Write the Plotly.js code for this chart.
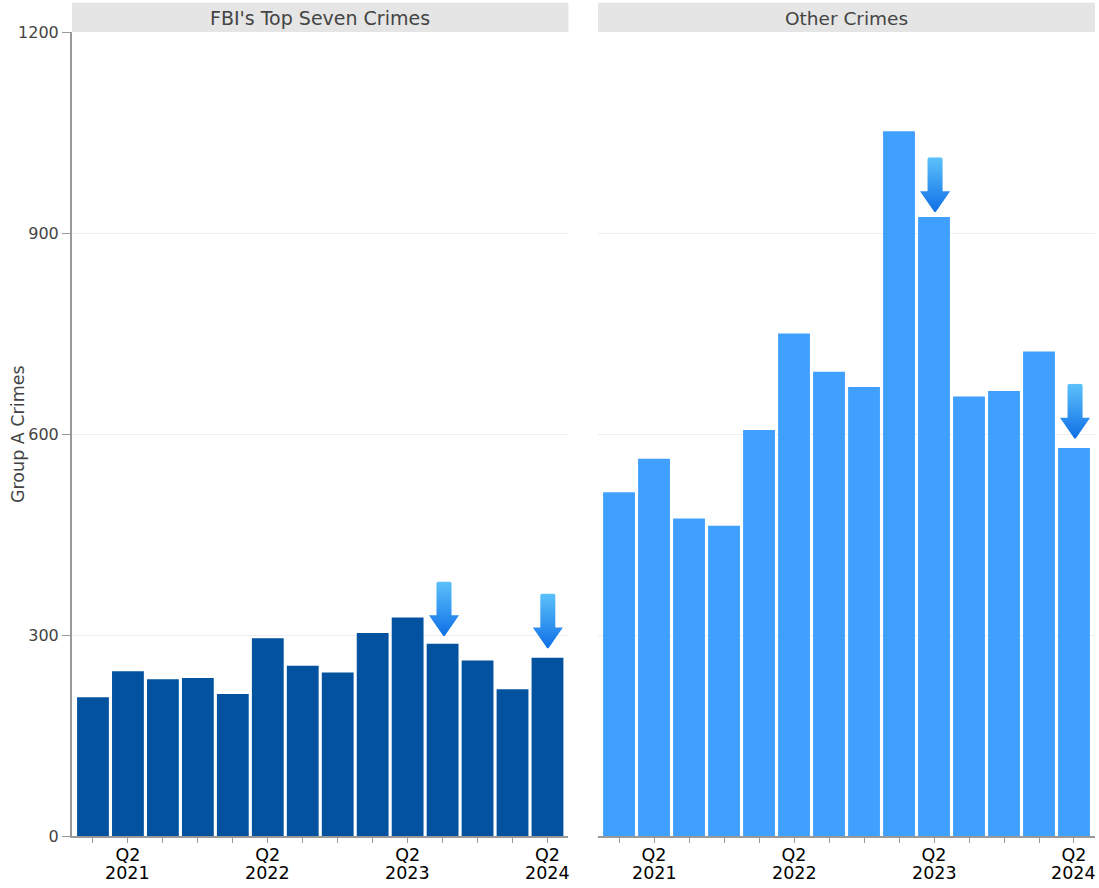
<!DOCTYPE html>
<html>
<head>
<meta charset="utf-8">
<script src="https://cdn.plot.ly/plotly-3.0.1.min.js"></script>
<style>html,body{margin:0;padding:0;background:#fff}</style>
</head>
<body>
<div id="chart" style="width:1099px;height:888px"></div>
<script>
const quarters = ["Q1 2021","Q2 2021","Q3 2021","Q4 2021","Q1 2022","Q2 2022","Q3 2022","Q4 2022","Q1 2023","Q2 2023","Q3 2023","Q4 2023","Q1 2024","Q2 2024"];
const topSeven = [207,246,234,236,212,295,254,244,303,326,287,262,219,266];
const otherCrimes = [513,563,474,463,606,750,693,670,1052,924,656,664,723,579];
const tickQuarters = ["Q2 2021","Q2 2022","Q2 2023","Q2 2024"];
const tickLabels = ["Q2","Q2","Q2","Q2"];
const yearLabels = ["2021","2022","2023","2024"];
const yTicks = [0,300,600,900,1200];
const topArrowSlots = [10.04,13.01];
const topArrowTips = [298,280];
const otherArrowSlots = [9.03,13.03];
const otherArrowTips = [931,593];
const panelTitles = ["FBI's Top Seven Crimes","Other Crimes"];
const yTitle = "Group A Crimes";

const arrowSvg = '<svg xmlns="http://www.w3.org/2000/svg" viewBox="0 0 30 55" preserveAspectRatio="none">' +
 '<defs><linearGradient id="g" x1="0" y1="0" x2="0" y2="1"><stop offset="0" stop-color="#5cc2fb"/><stop offset="1" stop-color="#0f6fe6"/></linearGradient></defs>' +
 '<path d="M7.5 2 Q7.5 0 9.5 0 H20.5 Q22.5 0 22.5 2 V34 H30 L15.5 55 H14.5 L0 34 H7.5 Z" fill="url(#g)"/></svg>';
const arrowUri = 'data:image/svg+xml;base64,' + btoa(arrowSvg);

function arrowImages(slots, tips, xr, yr){
  return slots.map((s,i) => ({
    source: arrowUri, xref: xr, yref: yr,
    x: s, y: tips[i],
    sizex: 0.86, sizey: 82, xanchor: 'center', yanchor: 'bottom',
    sizing: 'stretch', layer: 'above'
  }));
}
function yearAnnotations(xr){
  return tickQuarters.map((q,i) => ({
    text: yearLabels[i], xref: xr, yref: 'paper', x: q, y: 0, yshift: -36.5,
    showarrow: false, xanchor: 'center', yanchor: 'middle',
    font: {family:'DejaVu Sans', size:17.5, color:'#000'}
  }));
}

const xBase = {
  type:'category', categoryorder:'array', categoryarray:quarters,
  range:[-0.6,13.6], showgrid:false, zeroline:false,
  showline:true, linecolor:'#999', linewidth:1.5,
  tickmode:'array', tickvals:tickQuarters, ticktext:tickLabels,
  ticks:'outside', ticklen:5, tickcolor:'#999', tickwidth:1,
  ticklabelstandoff:-3,
  minor:{ticks:'outside', ticklen:5, tickcolor:'#999', tickwidth:1, tickmode:'array', tickvals:quarters},
  tickfont:{family:'DejaVu Sans', size:17.5, color:'#000'}, automargin:false
};
const yBase = {
  range:[0,1200], tickmode:'array', tickvals:yTicks,
  gridcolor:'#eeeeee', gridwidth:1, zeroline:false, automargin:false
};

const traces = [
  {type:'bar', x:quarters, y:topSeven, xaxis:'x', yaxis:'y', marker:{color:'#02529f', line:{width:0}}, width:0.91, hoverinfo:'x+y', showlegend:false},
  {type:'bar', x:quarters, y:otherCrimes, xaxis:'x2', yaxis:'y2', marker:{color:'#3fa0ff', line:{width:0}}, width:0.91, hoverinfo:'x+y', showlegend:false}
];

const layout = {
  width:1099, height:888,
  margin:{l:72,r:4,t:32,b:51.5,pad:0},
  paper_bgcolor:'#fff', plot_bgcolor:'#fff',
  font:{family:'DejaVu Sans', color:'#444', size:16},
  xaxis:Object.assign({}, xBase, {domain:[0,0.4853], anchor:'y'}),
  xaxis2:Object.assign({}, xBase, {domain:[0.5142,1], anchor:'y2'}),
  yaxis:Object.assign({}, yBase, {
    domain:[0,1], anchor:'x', showline:true, linecolor:'#999', linewidth:2,
    ticks:'outside', ticklen:8, tickcolor:'#999', tickwidth:1,
    tickfont:{family:'DejaVu Sans', size:16, color:'#444'}
  }),
  yaxis2:Object.assign({}, yBase, {domain:[0,1], anchor:'x2', showline:false, showticklabels:false, ticks:''}),
  shapes:[
    {type:'rect', xref:'x domain', yref:'paper', x0:0, x1:1, y0:1, y1:1.0363, fillcolor:'#e5e5e5', line:{width:0}},
    {type:'rect', xref:'x2 domain', yref:'paper', x0:0, x1:1, y0:1, y1:1.0363, fillcolor:'#e5e5e5', line:{width:0}}
  ],
  annotations:[
    {text:panelTitles[0], xref:'x domain', yref:'paper', x:0.5, y:1.017, showarrow:false, xanchor:'center', yanchor:'middle', font:{family:'DejaVu Sans', size:19, color:'#444'}},
    {text:panelTitles[1], xref:'x2 domain', yref:'paper', x:0.5, y:1.017, showarrow:false, xanchor:'center', yanchor:'middle', font:{family:'DejaVu Sans', size:18.5, color:'#444'}},
    {text:yTitle, xref:'paper', yref:'paper', x:0, y:0.5, xshift:-54, textangle:-90, showarrow:false, xanchor:'center', yanchor:'middle', font:{family:'DejaVu Sans', size:17.5, color:'#444'}}
  ].concat(yearAnnotations('x'), yearAnnotations('x2')),
  images:arrowImages(topArrowSlots, topArrowTips, 'x', 'y').concat(arrowImages(otherArrowSlots, otherArrowTips, 'x2', 'y2')),
  bargap:0.09
};
Plotly.newPlot('chart', traces, layout, {displayModeBar:false, responsive:false});
</script>
</body>
</html>
